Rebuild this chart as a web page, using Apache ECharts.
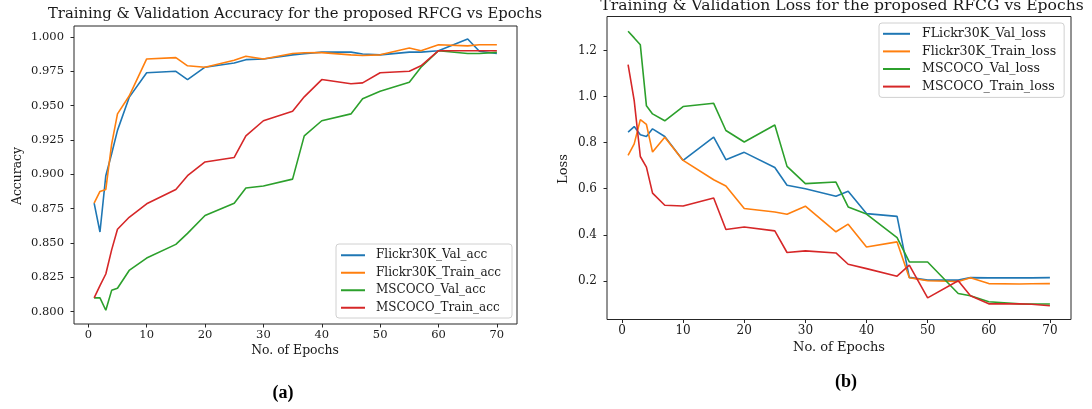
<!DOCTYPE html>
<html>
<head>
<meta charset="utf-8">
<script src="https://cdn.jsdelivr.net/npm/echarts@6/dist/echarts.min.js"></script>
<style>html,body{margin:0;padding:0;background:#fff;}#c{width:1092px;height:409px;}</style>
</head>
<body>
<div id="c"></div>
<script>
const epochs = [1,2,3,4,5,7,10,15,17,20,25,27,30,35,37,40,45,47,50,55,57,60,65,67,70];

const flickrValAcc   = [0.879,0.858,0.899,0.915,0.932,0.956,0.974,0.975,0.969,0.978,0.981,0.9835,0.984,0.987,0.9878,0.989,0.989,0.9876,0.987,0.989,0.989,0.990,0.9985,0.9896,0.988];
const flickrTrainAcc = [0.879,0.8875,0.889,0.922,0.944,0.957,0.984,0.985,0.979,0.978,0.983,0.986,0.984,0.988,0.9885,0.9886,0.987,0.9865,0.987,0.992,0.990,0.9944,0.9935,0.9944,0.9944];
const mscocoValAcc   = [0.810,0.810,0.801,0.8155,0.817,0.830,0.839,0.849,0.857,0.870,0.879,0.890,0.8915,0.8965,0.928,0.939,0.944,0.955,0.9605,0.967,0.978,0.990,0.988,0.988,0.9888];
const mscocoTrainAcc = [0.810,0.819,0.8274,0.845,0.860,0.8687,0.8785,0.889,0.899,0.909,0.9123,0.928,0.939,0.946,0.9564,0.969,0.966,0.9666,0.974,0.975,0.979,0.990,0.990,0.990,0.990];

const flickrValLoss   = [0.846,0.870,0.834,0.827,0.860,0.827,0.723,0.824,0.726,0.758,0.692,0.615,0.600,0.567,0.589,0.492,0.480,0.215,0.203,0.203,0.214,0.213,0.213,0.213,0.214];
const flickrTrainLoss = [0.745,0.795,0.900,0.879,0.759,0.824,0.723,0.639,0.612,0.514,0.499,0.489,0.524,0.413,0.446,0.347,0.369,0.213,0.200,0.197,0.213,0.188,0.186,0.187,0.188];
const mscocoValLoss   = [1.284,1.255,1.225,0.960,0.925,0.895,0.957,0.971,0.853,0.803,0.877,0.697,0.622,0.629,0.521,0.490,0.388,0.282,0.282,0.145,0.135,0.109,0.100,0.099,0.099];
const mscocoTrainLoss = [1.139,0.983,0.740,0.694,0.581,0.528,0.525,0.560,0.423,0.434,0.417,0.323,0.330,0.321,0.272,0.253,0.220,0.268,0.126,0.200,0.135,0.100,0.100,0.098,0.092];

const xTicks = [0,10,20,30,40,50,60,70];
const accTicks = [0.800,0.825,0.850,0.875,0.900,0.925,0.950,0.975,1.000];
const lossTicks = [0.2,0.4,0.6,0.8,1.0,1.2];

const accNames = ['Flickr30K_Val_acc','Flickr30K_Train_acc','MSCOCO_Val_acc','MSCOCO_Train_acc'];
const lossNames = ['FLickr30K_Val_loss','Flickr30K_Train_loss','MSCOCO_Val_loss','MSCOCO_Train_loss'];
const titleAcc = 'Training & Validation Accuracy for the proposed RFCG vs Epochs';
const titleLoss = 'Training & Validation Loss for the proposed RFCG vs Epochs';
const xName = 'No. of Epochs';

const colors = ['#1f77b4','#ff7f0e','#2ca02c','#d62728'];
const FONT = 'DejaVu Serif';
const TXT = '#1a1a1a';

function pairs(arr){ return epochs.map((e,i)=>[e, arr[i]]); }

function xAxisCfg(gi, fs){
  return {
    type:'value', gridIndex: gi, min:-2.45, max:73.45,
    splitLine:{show:false}, axisLine:{show:false, onZero:false},
    axisTick:{show:true, length:3.5, inside:false, customValues:xTicks, lineStyle:{color:'#262626', width:1}},
    axisLabel:{customValues:xTicks, margin:5, color:TXT, fontFamily:FONT, fontSize:fs}
  };
}
function yAxisCfg(gi, min, max, ticks, dec, fs){
  return {
    type:'value', gridIndex: gi, min:min, max:max,
    splitLine:{show:false}, axisLine:{show:false, onZero:false},
    axisTick:{show:true, length:3.5, inside:false, customValues:ticks, lineStyle:{color:'#262626', width:1}},
    axisLabel:{customValues:ticks, margin:10, color:TXT, fontFamily:FONT, fontSize:fs,
      formatter: v => Number(v).toFixed(dec)}
  };
}

const accData = [flickrValAcc, flickrTrainAcc, mscocoValAcc, mscocoTrainAcc];
const lossData = [flickrValLoss, flickrTrainLoss, mscocoValLoss, mscocoTrainLoss];

const series = [];
accData.forEach((d,i)=>series.push({
  name: accNames[i], type:'line', xAxisIndex:0, yAxisIndex:0, data: pairs(d),
  symbol:'none', lineStyle:{width:1.6, color:colors[i]}, itemStyle:{color:colors[i]}, animation:false
}));
lossData.forEach((d,i)=>series.push({
  name: lossNames[i], type:'line', xAxisIndex:1, yAxisIndex:1, data: pairs(d),
  symbol:'none', lineStyle:{width:1.6, color:colors[i]}, itemStyle:{color:colors[i]}, animation:false
}));

function legendCfg(names, left, top, iw, fs, lh, pad, tpad){
  return {
    data: names, orient:'vertical', left:left, top:top,
    icon:'rect', itemWidth:iw, itemHeight:2, itemGap:0,
    padding:pad,
    borderColor:'#d0d0d0', borderWidth:1, borderRadius:3, backgroundColor:'#fff',
    textStyle:{fontFamily:FONT, fontSize:fs, lineHeight:lh, color:TXT, padding:[0,0,0,tpad]},
    selectedMode:false
  };
}

const chart = echarts.init(document.getElementById('c'), null, {renderer:'canvas'});
chart.setOption({
  backgroundColor:'#ffffff',
  animation:false,
  grid:[
    {left:74, top:26, width:443, height:298, show:true, borderColor:'#262626', borderWidth:1, backgroundColor:'transparent'},
    {left:607, top:16.5, width:464, height:303, show:true, borderColor:'#262626', borderWidth:1, backgroundColor:'transparent'}
  ],
  xAxis:[xAxisCfg(0, 11.5), xAxisCfg(1, 12)],
  yAxis:[yAxisCfg(0, 0.791, 1.008, accTicks, 3, 11.5), yAxisCfg(1, 0.032, 1.348, lossTicks, 1, 12)],
  legend:[
    legendCfg(accNames, 336, 244, 24, 12, 17.5, [2.5,11,1.5,5], 6),
    legendCfg(lossNames, 879, 23, 27, 12.6, 17.6, [2,8,2,4], 7)
  ],
  series: series,
  graphic:[
    {type:'text', x:295, y:14, style:{text:titleAcc, textAlign:'center', textVerticalAlign:'middle', fontFamily:FONT, fontSize:14.8, fill:TXT}},
    {type:'text', x:842, y:6, style:{text:titleLoss, textAlign:'center', textVerticalAlign:'middle', fontFamily:FONT, fontSize:15.6, fill:TXT}},
    {type:'text', x:295, y:351, style:{text:xName, textAlign:'center', textVerticalAlign:'middle', fontFamily:FONT, fontSize:12.4, fill:TXT}},
    {type:'text', x:839, y:347.5, style:{text:xName, textAlign:'center', textVerticalAlign:'middle', fontFamily:FONT, fontSize:13, fill:TXT}},
    {type:'text', x:18, y:176, rotation:Math.PI/2, style:{text:'Accuracy', textAlign:'center', textVerticalAlign:'middle', fontFamily:FONT, fontSize:12.4, fill:TXT}},
    {type:'text', x:564, y:169, rotation:Math.PI/2, style:{text:'Loss', textAlign:'center', textVerticalAlign:'middle', fontFamily:FONT, fontSize:13, fill:TXT}},
    {type:'text', x:283, y:393, style:{text:'(a)', textAlign:'center', textVerticalAlign:'middle', fontFamily:'Liberation Serif', fontWeight:'bold', fontSize:18, fill:'#000'}},
    {type:'text', x:846, y:382, style:{text:'(b)', textAlign:'center', textVerticalAlign:'middle', fontFamily:'Liberation Serif', fontWeight:'bold', fontSize:18, fill:'#000'}}
  ]
});
</script>
</body>
</html>
